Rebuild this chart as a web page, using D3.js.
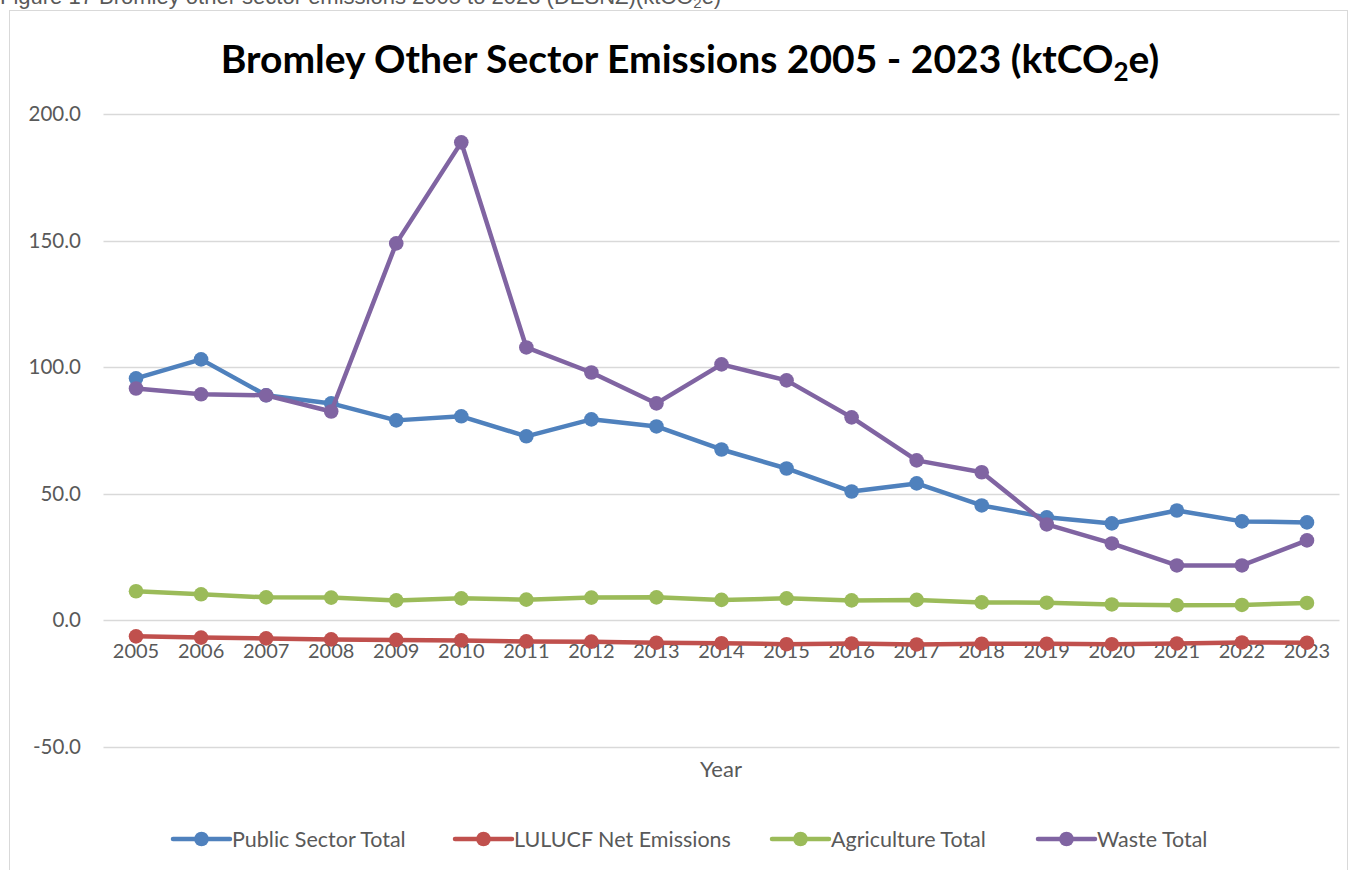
<!DOCTYPE html>
<html>
<head>
<meta charset="utf-8">
<script src="https://cdn.jsdelivr.net/npm/d3@7"></script>
<style>
  html, body { margin: 0; padding: 0; background: #fff; }
  svg { display: block; }
</style>
</head>
<body>
<svg id="chart" width="1358" height="870"></svg>
<script>
const years = ["2005","2006","2007","2008","2009","2010","2011","2012","2013","2014","2015","2016","2017","2018","2019","2020","2021","2022","2023"];
const publicSector = [95.6,103.1,88.9,85.7,79.0,80.6,72.7,79.4,76.6,67.5,60.0,50.9,54.1,45.4,40.7,38.3,43.4,39.1,38.7];
const lulucf = [-6.3,-6.8,-7.1,-7.5,-7.7,-7.9,-8.3,-8.4,-8.8,-9.0,-9.4,-9.1,-9.5,-9.2,-9.2,-9.4,-9.1,-8.7,-8.8];
const agriculture = [11.5,10.3,9.1,9.0,7.9,8.7,8.2,9.0,9.1,8.1,8.7,7.9,8.1,7.1,7.0,6.3,6.0,6.1,6.9];
const waste = [91.6,89.3,88.9,82.5,148.9,188.8,107.8,97.9,85.7,101.1,94.8,80.2,63.2,58.5,37.9,30.4,21.7,21.7,31.6];
const yTicks = [-50,0,50,100,150,200];
const seriesNames = ["Public Sector Total","LULUCF Net Emissions","Agriculture Total","Waste Total"];
const seriesColors = ["#4F81BD","#C0504D","#9BBB59","#8064A2"];
const seriesValues = [publicSector, lulucf, agriculture, waste];

const svg = d3.select("#chart");
const font = "Lato, 'Open Sans', 'DejaVu Sans', sans-serif";

// Figure caption (partly above the page top, as in the source)
const cap = svg.append("text").attr("x", 0).attr("y", 4)
  .attr("font-family", "'Liberation Sans', Arial, sans-serif").attr("font-size", 22)
  .attr("fill", "#595959");
cap.append("tspan").text("Figure 17 Bromley other sector emissions 2005 to 2023 (DESNZ)(ktCO");
cap.append("tspan").attr("font-size", 15).attr("dy", 4).text("2");
cap.append("tspan").attr("dy", -4).text("e)");

// chart frame
svg.append("rect").attr("x", 9.5).attr("y", 10.5).attr("width", 1338).attr("height", 900)
  .attr("fill", "#fff").attr("stroke", "#d9d9d9").attr("stroke-width", 1);

const x = d3.scaleBand().domain(years).range([103.5, 1339.5]);
const y = d3.scaleLinear().domain([-50, 200]).range([747, 114]);

// gridlines
svg.append("g").selectAll("line").data(yTicks).join("line")
  .attr("x1", 103.5).attr("x2", 1339.5)
  .attr("y1", d => Math.round(y(d)) + 0.5).attr("y2", d => Math.round(y(d)) + 0.5)
  .attr("stroke", "#d9d9d9").attr("stroke-width", 1.3);

// y axis labels
const yAxis = d3.axisLeft(y).tickValues(yTicks)
  .tickFormat(d => d3.format(".1f")(d).replace("\u2212", "-")).tickSize(0).tickPadding(0);
const gy = svg.append("g").attr("transform", "translate(81,0)").call(yAxis);
gy.select(".domain").remove();
gy.selectAll("text").attr("font-family", font).attr("font-size", 20.5).attr("fill", "#595959");

// x axis labels
const xAxis = d3.axisBottom(x).tickSize(0).tickPadding(0);
const gx = svg.append("g").attr("transform", `translate(0,${y(0) + 38})`).call(xAxis);
gx.select(".domain").remove();
gx.selectAll("text").attr("font-family", font).attr("font-size", 20).attr("fill", "#595959").attr("y", 0).attr("dy", 0);

// x axis title
svg.append("text").attr("x", 721).attr("y", 777).attr("text-anchor", "middle")
  .attr("font-family", font).attr("font-size", 22).attr("fill", "#595959").text("Year");

// title
const title = svg.append("text").attr("x", 690).attr("y", 73).attr("text-anchor", "middle")
  .attr("font-family", font).attr("font-weight", "bold").attr("font-size", 39).attr("fill", "#000");
title.append("tspan").text("Bromley Other Sector Emissions 2005 - 2023 (ktCO");
title.append("tspan").attr("font-size", 26).attr("dy", 8).text("2");
title.append("tspan").attr("dy", -8).text("e)");

// series
const line = d3.line().x((d, i) => x(years[i]) + x.bandwidth() / 2).y(d => y(d));
seriesValues.forEach((vals, si) => {
  const g = svg.append("g");
  g.append("path").datum(vals).attr("d", line).attr("fill", "none")
    .attr("stroke", seriesColors[si]).attr("stroke-width", 4.5).attr("stroke-linejoin", "round").attr("stroke-linecap", "round");
  g.selectAll("circle").data(vals).join("circle")
    .attr("cx", (d, i) => x(years[i]) + x.bandwidth() / 2).attr("cy", d => y(d)).attr("r", 7.3)
    .attr("fill", seriesColors[si]);
});

// legend
const legendX = [173, 455, 772, 1038];
const legend = svg.append("g");
seriesNames.forEach((name, i) => {
  const lg = legend.append("g").attr("transform", `translate(${legendX[i]},839)`);
  lg.append("line").attr("x1", 0).attr("x2", 57).attr("y1", 0).attr("y2", 0)
    .attr("stroke", seriesColors[i]).attr("stroke-width", 4.5).attr("stroke-linecap", "round");
  lg.append("circle").attr("cx", 28.5).attr("cy", 0).attr("r", 7.3).attr("fill", seriesColors[i]);
  lg.append("text").attr("x", 59).attr("y", 7.5).attr("font-family", font).attr("font-size", 21.5)
    .attr("fill", "#595959").text(name);
});
</script>
</body>
</html>
